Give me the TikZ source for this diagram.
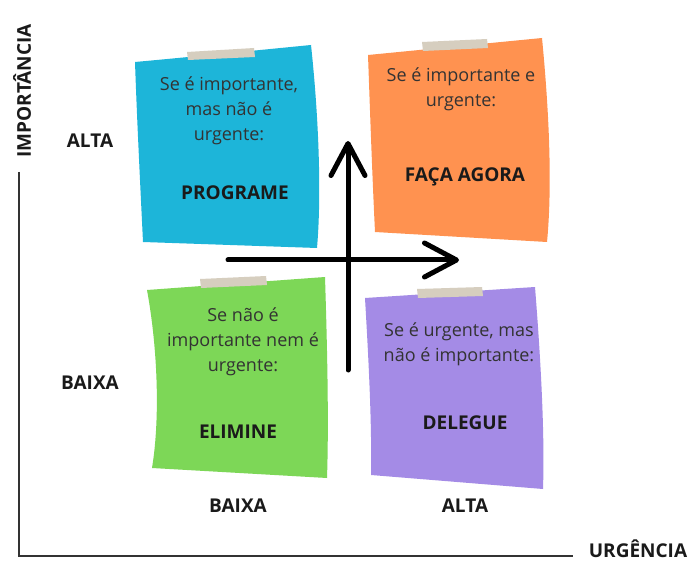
\documentclass[tikz,border=0pt]{standalone}
\usepackage{fontspec}
\setmainfont{Open Sans}
\usetikzlibrary{arrows.meta}
\definecolor{noteblue}{HTML}{1DB5D9}
\definecolor{noteorange}{HTML}{FF9250}
\definecolor{notegreen}{HTML}{7DD757}
\definecolor{notepurple}{HTML}{A48BE6}
\definecolor{tapecol}{HTML}{D6CEBF}
\definecolor{notetxt}{HTML}{333333}
\definecolor{titletxt}{HTML}{1A1A1A}
\definecolor{axiscol}{HTML}{333333}
\begin{document}
\begin{tikzpicture}[x=1pt,y=-1pt,
  notetext/.style={font=\fontsize{18}{25}\selectfont, text=notetxt, align=center, inner sep=0pt},
  notetitle/.style={font=\fontsize{19}{23}\selectfont\bfseries, text=titletxt, inner sep=0pt},
  axislabel/.style={font=\fontsize{19}{23}\selectfont\bfseries, text=titletxt, inner sep=0pt},
  tapestyle/.style={fill=tapecol, draw=none},
  axisline/.style={draw=axiscol, line width=2pt},
  bigarrow/.style={line width=5pt, line cap=round, -{Straight Barb[length=32pt,width=34pt,line cap=round,line join=round]}}]
\useasboundingbox (0,0) rectangle (691,564);
\fill[white] (0,0) rectangle (691,564);

% sticky notes
\fill[noteblue] (135,62) .. controls (190,57) and (260,50) .. (311,45)
  .. controls (318,110) and (322,190) .. (317,248) -- (143,242)
  .. controls (140,180) and (137,120) .. (135,62) -- cycle;
\fill[noteorange] (368,55) -- (542,38) .. controls (548,100) and (553,180) .. (547,242)
  -- (375,232) .. controls (372,170) and (370,110) .. (368,55) -- cycle;
\fill[notegreen] (147,290) -- (325,277) .. controls (327,340) and (329,420) .. (327,478)
  -- (152,468) .. controls (160,420) and (158,350) .. (147,290) -- cycle;
\fill[notepurple] (365,298) -- (535,287) .. controls (540,350) and (545,430) .. (543,489)
  -- (371,475) .. controls (372,420) and (368,350) .. (365,298) -- cycle;

% tapes
\fill[tapestyle] (187,52) -- (254,48) -- (255,57) -- (188,60) -- cycle;
\fill[tapestyle] (422,42) -- (487,39) -- (488,48) -- (423,51) -- cycle;
\fill[tapestyle] (200,279) -- (266,276) -- (267,285) -- (201,288) -- cycle;
\fill[tapestyle] (417,289) -- (482,287) -- (483,296) -- (418,298) -- cycle;

% note texts
\node[notetext] (tblue) at (229,111) {Se é importante,\\mas não é\\urgente:};
\node[notetitle] (hblue) at (235,193) {PROGRAME};
\node[notetext] (torange) at (461,89) {Se é importante e\\urgente:};
\node[notetitle] (horange) at (465,177) {FAÇA AGORA};
\node[notetext] (tgreen) at (243,342) {Se não é\\importante nem é\\urgente:};
\node[notetitle] (hgreen) at (238,432) {ELIMINE};
\node[notetext] (tpurple) at (459,344) {Se é urgente, mas\\não é importante:};
\node[notetitle] (hpurple) at (465,423) {DELEGUE};

% central arrows
\coordinate (vstart) at (348,370);
\coordinate (vend) at (348,141);
\coordinate (hstart) at (228,260);
\coordinate (hend) at (459,260);
\draw[bigarrow] (vstart) -- (vend);
\draw[bigarrow] (hstart) -- (hend);

% axes
\coordinate (origin) at (19,556);
\coordinate (ytop) at (19,172);
\coordinate (xend) at (573,556);
\draw[axisline] (ytop) -- (origin) -- (xend);
\node[axislabel, rotate=90] (ylab) at (22,91) {IMPORTÂNCIA};
\node[axislabel] (xlab) at (638,549) {URGÊNCIA};
\node[axislabel] (yalta) at (90,141) {ALTA};
\node[axislabel] (ybaixa) at (90,383) {BAIXA};
\node[axislabel] (xbaixa) at (238,506) {BAIXA};
\node[axislabel] (xalta) at (465,506) {ALTA};
\end{tikzpicture}
\end{document}
